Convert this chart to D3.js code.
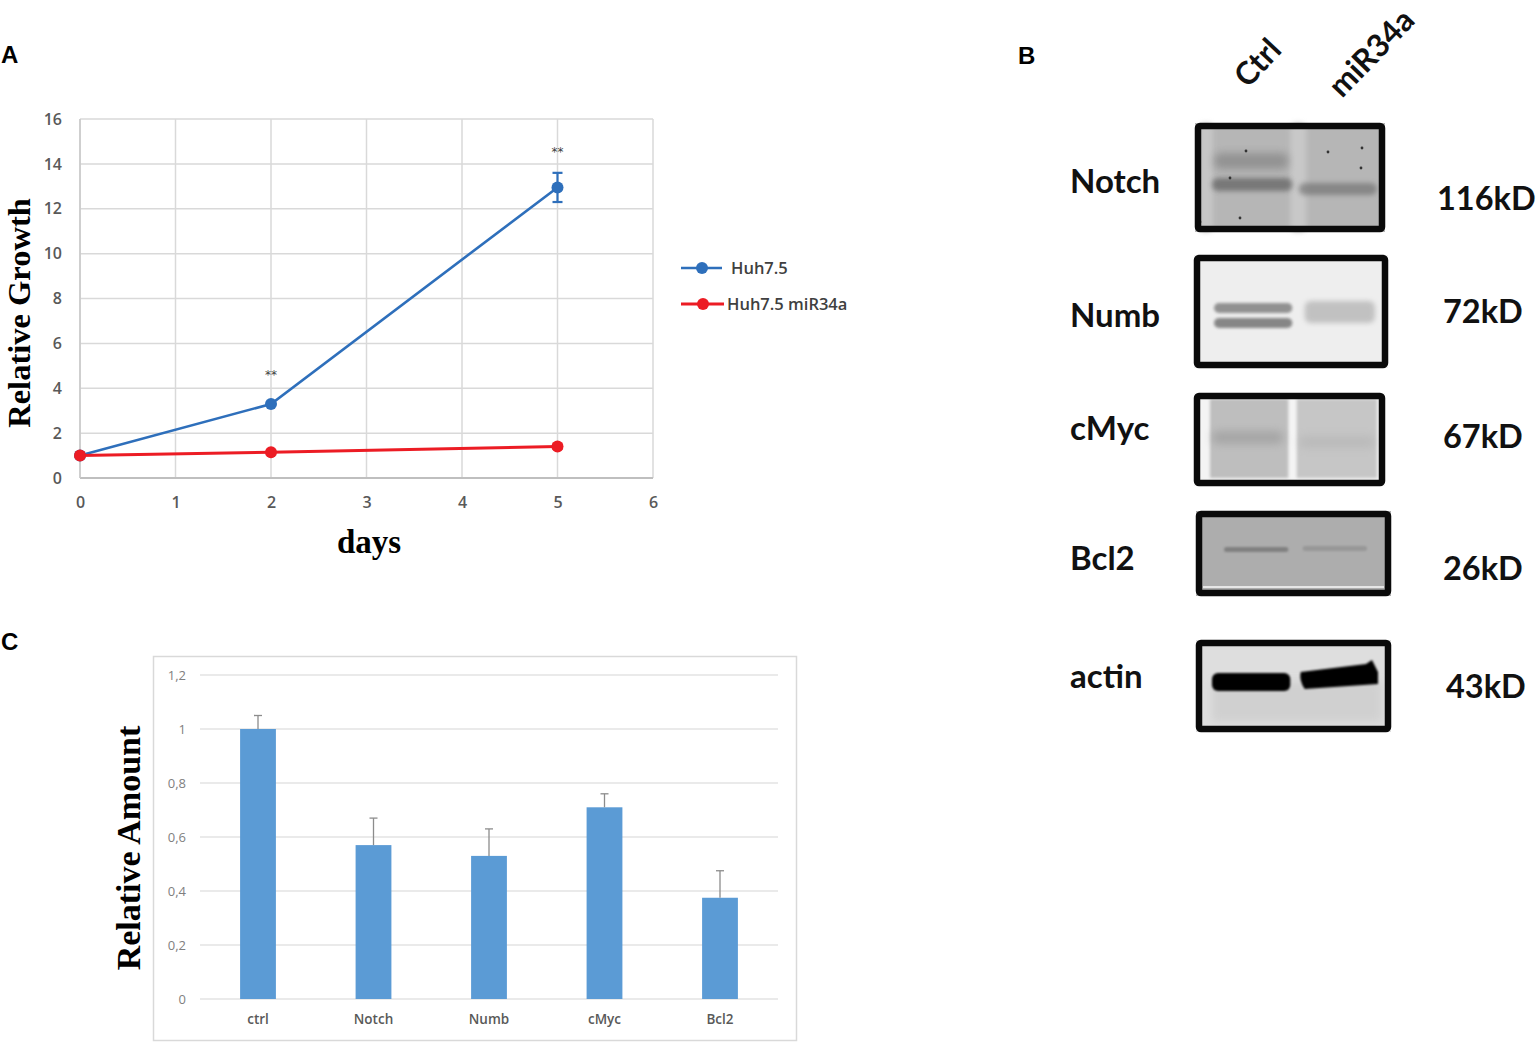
<!DOCTYPE html>
<html>
<head>
<meta charset="utf-8">
<script src="https://cdn.jsdelivr.net/npm/d3@7"></script>
<style>
  html, body { margin: 0; padding: 0; background: #fff; }
  svg { display: block; }
</style>
</head>
<body>
<script>
'use strict';

var width  = 1536;
var height = 1043;

// ---- panel A data ----
var days        = [0, 2, 5];
var huhGrowth   = [1, 3.3, 12.95];
var huhErr      = [0, 0.08, 0.65];
var mirGrowth   = [1, 1.15, 1.4];
var mirErr      = [0, 0.05, 0.1];
var xTicksA     = [0, 1, 2, 3, 4, 5, 6];
var yTicksA     = [0, 2, 4, 6, 8, 10, 12, 14, 16];
var starDays    = [2, 5];
var starLevel   = [4.4, 14.35];
var seriesNames = ['Huh7.5', 'Huh7.5 miR34a'];

// ---- panel B data ----
var proteins    = ['Notch', 'Numb', 'cMyc', 'Bcl2', 'actin'];
var weights     = ['116kD', '72kD', '67kD', '26kD', '43kD'];
var lanes       = ['Ctrl', 'miR34a'];
// band darkness (0..1) per protein, [ctrl, miR34a]
var bandDark    = [[0.6, 0.5], [0.65, 0.35], [0.45, 0.25], [0.5, 0.3], [1, 1]];

// ---- panel C data ----
var targets     = ['ctrl', 'Notch', 'Numb', 'cMyc', 'Bcl2'];
var amounts     = [1.0, 0.57, 0.53, 0.71, 0.375];
var amountErr   = [0.05, 0.1, 0.1, 0.05, 0.1];
var yTicksC     = [0, 0.2, 0.4, 0.6, 0.8, 1, 1.2];

var svg = d3.select('body').append('svg')
    .attr('width', width)
    .attr('height', height);

var defs = svg.append('defs');
[1, 1.5, 2.5, 4].forEach(function(s) {
  defs.append('filter')
    .attr('id', 'blur' + String(s).replace('.', '_'))
    .attr('x', '-30%').attr('y', '-200%').attr('width', '160%').attr('height', '500%')
    .append('feGaussianBlur').attr('stdDeviation', s);
});

function panelLabel(t, x, y) {
  svg.append('text')
    .attr('x', x).attr('y', y)
    .attr('font-family', 'Liberation Sans, Arial, sans-serif')
    .attr('font-weight', 'bold')
    .attr('font-size', 24)
    .text(t);
}
panelLabel('A', 1, 63);
panelLabel('B', 1018, 64);
panelLabel('C', 1, 650);

// ================= panel A =================
var gA = svg.append('g');
var xA = d3.scaleLinear().domain([0, 6]).range([80, 653]);
var yA = d3.scaleLinear().domain([0, 16]).range([478, 119]);

gA.append('g').selectAll('line').data(xTicksA).join('line')
  .attr('x1', d => xA(d)).attr('x2', d => xA(d))
  .attr('y1', yA(16)).attr('y2', yA(0))
  .attr('stroke', '#d9d9d9').attr('stroke-width', 1.5);
gA.append('g').selectAll('line').data(yTicksA).join('line')
  .attr('x1', xA(0)).attr('x2', xA(6))
  .attr('y1', d => yA(d)).attr('y2', d => yA(d))
  .attr('stroke', '#d9d9d9').attr('stroke-width', 1.5);
gA.append('line')
  .attr('x1', xA(0)).attr('x2', xA(6)).attr('y1', yA(0)).attr('y2', yA(0))
  .attr('stroke', '#bfbfbf').attr('stroke-width', 2);
gA.append('line')
  .attr('x1', xA(0)).attr('x2', xA(0)).attr('y1', yA(0)).attr('y2', yA(16))
  .attr('stroke', '#c8c8c8').attr('stroke-width', 1.5);

var yAxisA = d3.axisLeft(yA).tickValues(yTicksA).tickFormat(d3.format('d')).tickSize(0).tickPadding(18);
gA.append('g').attr('transform', 'translate(' + xA(0) + ',0)').call(yAxisA)
  .call(g => g.select('.domain').remove())
  .selectAll('text')
  .attr('font-family', 'Open Sans, sans-serif').attr('font-weight', 600)
  .attr('font-size', 16).attr('fill', '#595959');

var xAxisA = d3.axisBottom(xA).tickValues(xTicksA).tickFormat(d3.format('d')).tickSize(0).tickPadding(19);
gA.append('g').attr('transform', 'translate(0,' + yA(0) + ')').call(xAxisA)
  .call(g => g.select('.domain').remove())
  .selectAll('text')
  .attr('font-family', 'Open Sans, sans-serif').attr('font-weight', 600)
  .attr('font-size', 16).attr('fill', '#595959');

gA.append('text')
  .attr('transform', 'translate(30,313) rotate(-90)')
  .attr('text-anchor', 'middle')
  .attr('font-family', 'Liberation Serif, Times New Roman, serif')
  .attr('font-weight', 'bold').attr('font-size', 32.5)
  .text('Relative Growth');
gA.append('text')
  .attr('x', 369).attr('y', 553)
  .attr('text-anchor', 'middle')
  .attr('font-family', 'Liberation Serif, Times New Roman, serif')
  .attr('font-weight', 'bold').attr('font-size', 33)
  .text('days');

var series = [
  { name: seriesNames[0], vals: huhGrowth, err: huhErr, color: '#2e6fbb', w: 2.6 },
  { name: seriesNames[1], vals: mirGrowth, err: mirErr, color: '#ec1c24', w: 3 }
];
var line = d3.line().x(d => xA(d[0])).y(d => yA(d[1]));

series.forEach(function(s) {
  var pts = days.map((d, i) => [d, s.vals[i], s.err[i]]);
  gA.append('path').datum(pts)
    .attr('d', line).attr('fill', 'none')
    .attr('stroke', s.color).attr('stroke-width', s.w);
  var eb = gA.append('g').selectAll('g').data(pts.filter(p => p[2] > 0.06)).join('g')
    .attr('stroke', s.color).attr('stroke-width', 2.2);
  eb.append('line')
    .attr('x1', p => xA(p[0])).attr('x2', p => xA(p[0]))
    .attr('y1', p => yA(p[1] - p[2])).attr('y2', p => yA(p[1] + p[2]));
  eb.append('line')
    .attr('x1', p => xA(p[0]) - 5).attr('x2', p => xA(p[0]) + 5)
    .attr('y1', p => yA(p[1] - p[2])).attr('y2', p => yA(p[1] - p[2]));
  eb.append('line')
    .attr('x1', p => xA(p[0]) - 5).attr('x2', p => xA(p[0]) + 5)
    .attr('y1', p => yA(p[1] + p[2])).attr('y2', p => yA(p[1] + p[2]));
  gA.append('g').selectAll('circle').data(pts).join('circle')
    .attr('cx', p => xA(p[0])).attr('cy', p => yA(p[1]))
    .attr('r', 6).attr('fill', s.color);
});

gA.append('g').selectAll('text').data(starDays).join('text')
  .attr('x', d => xA(d)).attr('y', (d, i) => yA(starLevel[i]))
  .attr('text-anchor', 'middle')
  .attr('font-family', 'DejaVu Sans, sans-serif').attr('font-size', 12)
  .attr('fill', '#404040')
  .text('**');

// legend
var leg = gA.append('g').selectAll('g').data(series).join('g')
  .attr('transform', (d, i) => 'translate(681,' + (268 + i * 36) + ')');
leg.append('line').attr('x1', 0).attr('x2', (d, i) => i ? 43 : 41)
  .attr('stroke', d => d.color).attr('stroke-width', d => d.w);
leg.append('circle').attr('cx', (d, i) => i ? 22 : 21).attr('r', 6).attr('fill', d => d.color);
leg.append('text')
  .attr('x', (d, i) => i ? 46 : 50).attr('y', 5.5)
  .attr('font-family', 'Open Sans, sans-serif').attr('font-weight', 600)
  .attr('font-size', 16.5).attr('fill', '#404040')
  .text(d => d.name);

// ================= panel B =================
var gB = svg.append('g');
// box geometry of each blot strip
var boxes = [
  { x0: 1195, x1: 1385, y0: 123, y1: 232, bg: '#b6b6b6' },
  { x0: 1194, x1: 1388, y0: 255, y1: 368, bg: '#eeeeee' },
  { x0: 1194, x1: 1385, y0: 393, y1: 486, bg: '#f4f4f4' },
  { x0: 1196, x1: 1391, y0: 511, y1: 596, bg: '#adadad' },
  { x0: 1196, x1: 1391, y0: 640, y1: 732, bg: '#dedede' }
];
var labelBase = [193, 327, 440, 570, 688];
var weightBase = [210, 323, 448, 580, 698];
var weightX = [1437, 1443, 1443, 1443, 1446];
var laneX = d3.scaleBand().domain(lanes).range([1212, 1375]).paddingInner(0.12);

var blot = gB.selectAll('g.blot').data(proteins).join('g').attr('class', 'blot');

function band(g, x, y, w, h, fill, op, blur) {
  g.append('rect').attr('x', x).attr('y', y).attr('width', w).attr('height', h)
    .attr('rx', Math.min(h / 2, 6))
    .attr('fill', fill).attr('opacity', op).attr('filter', 'url(#blur' + blur + ')');
}

blot.each(function(p, i) {
  var g = d3.select(this);
  var b = boxes[i];
  var cx = laneX('Ctrl'), mx = laneX('miR34a'), bw = laneX.bandwidth();
  g.append('rect')
    .attr('x', b.x0).attr('y', b.y0).attr('width', b.x1 - b.x0).attr('height', b.y1 - b.y0)
    .attr('fill', b.bg);
  if (p === 'Notch') {
    band(g, cx + bw + 2, b.y0, 16, b.y1 - b.y0, '#c8c8c8', 1, '2_5');
    band(g, b.x0 + 4, b.y0, 14, b.y1 - b.y0, '#c6c6c6', 1, '2_5');
    band(g, cx + 2, 153, bw - 2, 16, '#6a6a6a', bandDark[i][0] * 0.8, '4');
    band(g, cx, 178, bw + 4, 13, '#505050', bandDark[i][0], '2_5');
    band(g, mx, 183, bw + 2, 12, '#585858', bandDark[i][1], '2_5');
    [[1246, 151], [1230, 178], [1240, 218], [1200, 222], [1362, 148], [1361, 168], [1328, 152]].forEach(function(d) {
      g.append('circle').attr('cx', d[0]).attr('cy', d[1]).attr('r', 1.4).attr('fill', '#333');
    });
  } else if (p === 'Numb') {
    band(g, cx + 2, 303, bw + 2, 10, '#606060', bandDark[i][0], '1_5');
    band(g, cx + 2, 318, bw + 2, 10, '#505050', bandDark[i][0], '1_5');
    band(g, mx + 6, 301, bw - 6, 22, '#707070', bandDark[i][1], '2_5');
  } else if (p === 'cMyc') {
    lanes.forEach(function(l) {
      g.append('rect').attr('x', laneX(l) - 2).attr('y', b.y0 + 6)
        .attr('width', bw + (l === 'Ctrl' ? 2 : 4)).attr('height', b.y1 - b.y0 - 14)
        .attr('fill', l === 'Ctrl' ? '#bebebe' : '#c6c6c6').attr('filter', 'url(#blur1_5)');
    });
    band(g, cx, 431, bw - 5, 13, '#888', bandDark[i][0], '4');
    band(g, mx, 436, bw, 12, '#999', bandDark[i][1], '4');
  } else if (p === 'Bcl2') {
    g.append('rect').attr('x', b.x0 + 7).attr('y', b.y1 - 10).attr('width', b.x1 - b.x0 - 14)
      .attr('height', 2).attr('fill', '#e6e6e6');
    band(g, cx + 12, 547, bw - 12, 5, '#555', bandDark[i][0], '1');
    band(g, mx + 4, 546, bw - 12, 5, '#666', bandDark[i][1], '1');
  } else if (p === 'actin') {
    g.append('rect').attr('x', cx).attr('y', 682)
      .attr('width', 170).attr('height', 40).attr('fill', '#cbcbcb')
      .attr('opacity', 0.7).attr('filter', 'url(#blur4)');
    band(g, cx, 673, bw + 2, 18, '#000', bandDark[i][0], '1');
    g.append('path')
      .attr('d', 'M' + (mx + 2) + ',672 L1366,664 L1372,660 L1378,672 L1378,684 L' + (mx + 6) + ',689 Q' + mx + ',680 ' + (mx + 2) + ',672 Z')
      .attr('fill', '#000').attr('opacity', bandDark[i][1]).attr('filter', 'url(#blur1)');
  }
  g.append('rect')
    .attr('x', b.x0 + 3).attr('y', b.y0 + 3).attr('width', b.x1 - b.x0 - 6).attr('height', b.y1 - b.y0 - 6)
    .attr('rx', 2)
    .attr('fill', 'none').attr('stroke', '#0a0a0a').attr('stroke-width', 6.5);
});

blot.append('text')
  .attr('x', 1070).attr('y', (d, i) => labelBase[i])
  .attr('font-family', 'Lato, sans-serif').attr('font-weight', 'bold')
  .attr('font-size', 33).attr('fill', '#111')
  .text(d => d);
blot.append('text')
  .attr('x', (d, i) => weightX[i]).attr('y', (d, i) => weightBase[i])
  .attr('font-family', 'Lato, sans-serif').attr('font-weight', 'bold')
  .attr('font-size', 32.5).attr('fill', '#111')
  .text((d, i) => weights[i]);

gB.selectAll('text.lane').data(lanes).join('text').attr('class', 'lane')
  .attr('transform', (d, i) => i ? 'translate(1342,99) rotate(-46)' : 'translate(1248,89) rotate(-47)')
  .attr('font-family', 'Lato, sans-serif').attr('font-weight', 'bold')
  .attr('font-size', 31.5).attr('fill', '#111')
  .text(d => d);

// ================= panel C =================
var gC = svg.append('g');
gC.append('rect')
  .attr('x', 153.5).attr('y', 656.5).attr('width', 643).attr('height', 384)
  .attr('fill', '#fff').attr('stroke', '#d9d9d9').attr('stroke-width', 1.5);

var xC = d3.scaleBand().domain(targets).range([200.25, 777.75])
  .paddingInner(0.69).paddingOuter(0.345);
var yC = d3.scaleLinear().domain([0, 1.2]).range([999, 675]);

gC.append('g').selectAll('line').data(yTicksC).join('line')
  .attr('x1', 200).attr('x2', 778)
  .attr('y1', d => yC(d)).attr('y2', d => yC(d))
  .attr('stroke', '#e3e3e3').attr('stroke-width', 1.5);

var fmtC = d => String(+d.toFixed(1)).replace('.', ',');
gC.append('g').attr('transform', 'translate(186,0)')
  .call(d3.axisLeft(yC).tickValues(yTicksC).tickFormat(fmtC).tickSize(0).tickPadding(0))
  .call(g => g.select('.domain').remove())
  .selectAll('text')
  .attr('font-family', 'Open Sans, sans-serif').attr('font-size', 13)
  .attr('fill', '#7f7f7f');

gC.append('g').attr('transform', 'translate(0,1000)')
  .call(d3.axisBottom(xC).tickSize(0).tickPadding(14))
  .call(g => g.select('.domain').remove())
  .selectAll('text')
  .attr('font-family', 'Open Sans, sans-serif').attr('font-weight', 600)
  .attr('font-size', 13.5).attr('fill', '#595959');

gC.append('g').selectAll('rect').data(targets).join('rect')
  .attr('x', d => xC(d)).attr('width', xC.bandwidth())
  .attr('y', (d, i) => yC(amounts[i])).attr('height', (d, i) => yC(0) - yC(amounts[i]))
  .attr('fill', '#5b9bd5');

var ebC = gC.append('g').selectAll('g').data(targets).join('g')
  .attr('stroke', '#8c8c8c').attr('stroke-width', 1.3);
ebC.append('line')
  .attr('x1', d => xC(d) + xC.bandwidth() / 2).attr('x2', d => xC(d) + xC.bandwidth() / 2)
  .attr('y1', (d, i) => yC(amounts[i])).attr('y2', (d, i) => yC(amounts[i] + amountErr[i]));
ebC.append('line')
  .attr('x1', d => xC(d) + xC.bandwidth() / 2 - 4).attr('x2', d => xC(d) + xC.bandwidth() / 2 + 4)
  .attr('y1', (d, i) => yC(amounts[i] + amountErr[i])).attr('y2', (d, i) => yC(amounts[i] + amountErr[i]));

gC.append('text')
  .attr('transform', 'translate(140,848) rotate(-90)')
  .attr('text-anchor', 'middle')
  .attr('font-family', 'Liberation Serif, Times New Roman, serif')
  .attr('font-weight', 'bold').attr('font-size', 34)
  .text('Relative Amount');
</script>
</body>
</html>
